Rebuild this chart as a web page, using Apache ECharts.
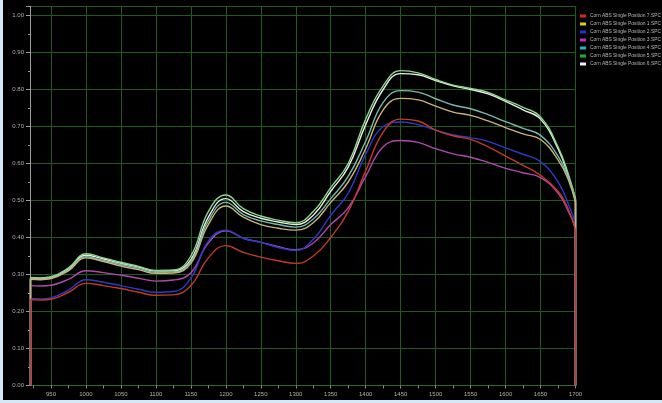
<!DOCTYPE html>
<html>
<head>
<meta charset="utf-8">
<script src="https://cdn.jsdelivr.net/npm/echarts@6/dist/echarts.min.js"></script>
<style>
  html, body { margin: 0; padding: 0; background: #d4e8f6; }
  #chart { position: absolute; left: 3px; top: 0; width: 659px; height: 400px; background: #000; }
</style>
</head>
<body>
<div id="chart"></div>
<script>
// Wavelength (nm) sample points
const wavelengths = [920, 935, 950, 975, 1000, 1025, 1050, 1075, 1100, 1125, 1150, 1175, 1200, 1225, 1250, 1275, 1300, 1325, 1350, 1375, 1400, 1425, 1450, 1475, 1500, 1525, 1550, 1575, 1600, 1625, 1650, 1675, 1690, 1700];

// Absorbance spectra, one per sample position
const pos7 = [0.232, 0.231, 0.233, 0.252, 0.276, 0.270, 0.262, 0.252, 0.244, 0.245, 0.270, 0.345, 0.378, 0.360, 0.347, 0.337, 0.330, 0.350, 0.400, 0.470, 0.580, 0.685, 0.720, 0.715, 0.690, 0.675, 0.665, 0.645, 0.620, 0.595, 0.568, 0.525, 0.475, 0.419];
const pos1 = [0.287, 0.286, 0.289, 0.310, 0.345, 0.335, 0.323, 0.313, 0.303, 0.304, 0.330, 0.435, 0.485, 0.455, 0.435, 0.425, 0.420, 0.440, 0.495, 0.550, 0.640, 0.745, 0.776, 0.772, 0.755, 0.739, 0.730, 0.715, 0.697, 0.680, 0.665, 0.610, 0.555, 0.495];
const pos2 = [0.235, 0.234, 0.237, 0.258, 0.286, 0.279, 0.270, 0.260, 0.252, 0.254, 0.290, 0.390, 0.420, 0.398, 0.387, 0.373, 0.365, 0.395, 0.460, 0.520, 0.625, 0.700, 0.712, 0.705, 0.690, 0.677, 0.670, 0.660, 0.642, 0.625, 0.605, 0.550, 0.490, 0.437];
const pos3 = [0.270, 0.269, 0.271, 0.287, 0.310, 0.305, 0.298, 0.290, 0.282, 0.285, 0.305, 0.385, 0.418, 0.398, 0.387, 0.375, 0.367, 0.385, 0.435, 0.480, 0.565, 0.645, 0.662, 0.657, 0.640, 0.626, 0.617, 0.603, 0.587, 0.575, 0.562, 0.520, 0.470, 0.428];
const pos4 = [0.288, 0.287, 0.290, 0.312, 0.348, 0.338, 0.327, 0.317, 0.306, 0.307, 0.335, 0.445, 0.495, 0.462, 0.445, 0.435, 0.428, 0.450, 0.505, 0.565, 0.660, 0.765, 0.797, 0.793, 0.775, 0.758, 0.748, 0.732, 0.713, 0.695, 0.676, 0.620, 0.560, 0.505];
const pos5 = [0.292, 0.291, 0.294, 0.318, 0.356, 0.345, 0.333, 0.322, 0.311, 0.312, 0.350, 0.470, 0.515, 0.478, 0.458, 0.447, 0.440, 0.470, 0.535, 0.600, 0.720, 0.810, 0.851, 0.845, 0.827, 0.812, 0.803, 0.792, 0.772, 0.752, 0.726, 0.645, 0.570, 0.505];
const pos6 = [0.290, 0.289, 0.292, 0.315, 0.352, 0.342, 0.330, 0.320, 0.309, 0.310, 0.340, 0.455, 0.505, 0.470, 0.452, 0.442, 0.435, 0.460, 0.525, 0.590, 0.705, 0.800, 0.843, 0.840, 0.824, 0.810, 0.800, 0.788, 0.768, 0.745, 0.720, 0.640, 0.565, 0.500];

// Series names, in legend order
const seriesNames = [
  'Corn ABS Single Position 7.SPC',
  'Corn ABS Single Position 1.SPC',
  'Corn ABS Single Position 2.SPC',
  'Corn ABS Single Position 3.SPC',
  'Corn ABS Single Position 4.SPC',
  'Corn ABS Single Position 5.SPC',
  'Corn ABS Single Position 6.SPC'
];
const seriesValues = [pos7, pos1, pos2, pos3, pos4, pos5, pos6];

// Axis tick and label positions
const xTickValues = [925, 950, 975, 1000, 1025, 1050, 1075, 1100, 1125, 1150, 1175, 1200, 1225, 1250, 1275, 1300, 1325, 1350, 1375, 1400, 1425, 1450, 1475, 1500, 1525, 1550, 1575, 1600, 1625, 1650, 1675, 1700];
const xLabelValues = [950, 1000, 1050, 1100, 1150, 1200, 1250, 1300, 1350, 1400, 1450, 1500, 1550, 1600, 1650, 1700];

const iconColors = ['#d42a22', '#d8d020', '#2a2ad8', '#c030c0', '#22b8c0', '#22b022', '#f2f2f2'];
const lineColors = ['#c23a2a', '#c8b478', '#3038c4', '#b048b0', '#78b8ac', '#8ed48e', '#e4f0e4'];
const gridGreen = '#1f5a1f';

const chart = echarts.init(document.getElementById('chart'), null, { renderer: 'canvas' });

// Build line series; the first position is painted last so it sits on top
const series = seriesNames.map((name, i) => {
  const vals = seriesValues[i];
  const last = wavelengths.length - 1;
  return {
    name: name,
    type: 'line',
    xAxisIndex: 0,
    z: 10 - i,
    data: wavelengths.map((w, j) => [w, vals[j]]),
    smooth: 0.45,
    showSymbol: false,
    symbol: 'none',
    itemStyle: { color: iconColors[i] },
    lineStyle: { color: lineColors[i], width: 1.4 },
    animation: false,
    // vertical drops to zero at both ends of the scan
    markLine: {
      silent: true,
      z: 10 - i,
      symbol: ['none', 'none'],
      label: { show: false },
      animation: false,
      lineStyle: { color: lineColors[i], width: 1.4, type: 'solid' },
      data: [
        [{ coord: [wavelengths[0], 0] }, { coord: [wavelengths[0], vals[0]] }],
        [{ coord: [wavelengths[last], vals[last]] }, { coord: [wavelengths[last], 0] }]
      ]
    }
  };
});

chart.setOption({
  backgroundColor: '#000',
  animation: false,
  legend: {
    orient: 'vertical',
    left: 577,
    top: 13,
    padding: 0,
    itemWidth: 6,
    itemHeight: 3,
    itemGap: 2,
    icon: 'rect',
    textStyle: { color: '#b8b8b8', fontSize: 4.9, fontFamily: 'Liberation Sans', lineHeight: 6, padding: [0, 0, 0, -1] },
    data: seriesNames
  },
  grid: { left: 27, right: 86.5, top: 6.25, bottom: 14.5, containLabel: false },
  xAxis: [
    {
      type: 'value',
      min: 920,
      max: 1700,
      axisLine: { show: true, lineStyle: { color: '#2a6a2a', width: 1 } },
      axisTick: { show: true, customValues: xTickValues, length: 3, lineStyle: { color: '#8a8a8a' } },
      axisLabel: {
        customValues: xLabelValues, color: '#b0b0b0', fontSize: 6, fontFamily: 'Liberation Sans', margin: 6,
        formatter: v => String(v)
      },
      splitLine: { show: false }
    },
    {
      type: 'value',
      min: 920,
      max: 1700,
      position: 'bottom',
      axisLine: { show: false },
      axisTick: { show: false, customValues: xLabelValues },
      axisLabel: { show: false },
      splitLine: { show: true, lineStyle: { color: gridGreen, width: 1 } }
    }
  ],
  yAxis: {
    type: 'value',
    min: 0,
    max: 1.025,
    interval: 0.1,
    axisLine: { show: true, lineStyle: { color: '#9a9a9a', width: 1 } },
    axisTick: { show: true, length: 4, lineStyle: { color: '#9a9a9a' } },
    minorTick: { show: true, splitNumber: 2, length: 2, lineStyle: { color: '#9a9a9a' } },
    axisLabel: {
      color: '#b0b0b0', fontSize: 6, fontFamily: 'Liberation Sans', margin: 6, showMaxLabel: false,
      formatter: v => v.toFixed(2)
    },
    splitLine: { show: true, lineStyle: { color: gridGreen, width: 1 } }
  },
  series: series
});
</script>
</body>
</html>
